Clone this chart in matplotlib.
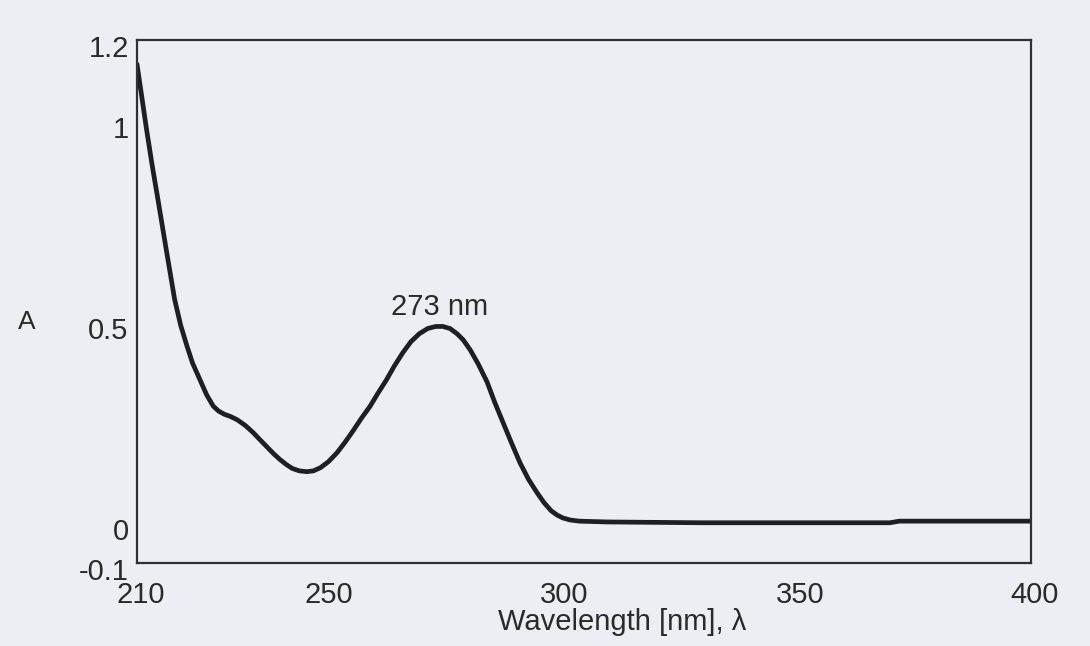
import matplotlib
matplotlib.use("Agg")
import matplotlib.pyplot as plt
from matplotlib.transforms import ScaledTranslation

plt.rcParams['font.family'] = ['Liberation Sans', 'DejaVu Sans']

wavelength = [210, 211, 212, 213.2, 214.5, 216.2, 218, 219.3, 220.6, 221.8,
              223.4, 224.8, 226.2, 227.3, 228.5, 229.9, 231.3, 233, 234.7, 236,
              237.5, 239, 240.4, 241.7, 243, 244.5, 246.1, 247.5, 249, 250.7,
              252.5, 254.2, 256, 257.7, 259.5, 261.2, 263, 264.7, 266.5, 268.2,
              270, 271.8, 273.5, 275, 276.5, 278, 279.3, 280.8, 282.5, 284.4,
              286, 287.8, 289.6, 291.4, 293.2, 295, 296.5, 298, 299.3, 300.5,
              302, 304, 307, 310, 320, 330, 340, 350, 360, 370, 372, 380, 390, 400]
absorbance = [1.14, 1.06, 0.98, 0.89, 0.80, 0.68, 0.555, 0.49, 0.44, 0.397,
              0.355, 0.318, 0.29, 0.278, 0.27, 0.264, 0.256, 0.242, 0.224, 0.208,
              0.19, 0.172, 0.157, 0.145, 0.135, 0.129, 0.127, 0.129, 0.137, 0.152,
              0.174, 0.2, 0.23, 0.26, 0.289, 0.322, 0.355, 0.39, 0.423, 0.45,
              0.47, 0.483, 0.488, 0.488, 0.483, 0.47, 0.455, 0.43, 0.395, 0.35,
              0.3, 0.249, 0.198, 0.149, 0.108, 0.075, 0.05, 0.03, 0.019, 0.012,
              0.007, 0.004, 0.003, 0.002, 0.001, 0.0, 0.0, 0.0, 0.0, 0.0,
              0.004, 0.004, 0.004, 0.004]

yticks = [-0.1, 0, 0.5, 1, 1.2]
ytick_labels = ["-0.1", "0", "0.5", "1", "1.2"]
xticks = [210, 250, 300, 350, 400]
xtick_labels = ["210", "250", "300", "350", "400"]
peak_label = "273 nm"
peak_pos = (274.2, 0.537)

bg = '#edeef3'
fs = 21
fig = plt.figure(figsize=(10.9, 6.46), dpi=100, facecolor=bg)
ax = fig.add_axes([0.1257, 0.1285, 0.8202, 0.8095], facecolor=bg)

ax.plot(wavelength, absorbance, color='#1e1e24', lw=3.4, solid_capstyle='round',
        solid_joinstyle='round')

ax.set_xlim(210, 400)
ax.set_ylim(-0.1, 1.2)
ax.set_xticks(xticks)
ax.set_xticklabels(xtick_labels)
ax.set_yticks(yticks)
ax.set_yticklabels(ytick_labels)
ax.tick_params(axis='both', length=0, labelsize=fs, colors='#2a2a2a')
ax.tick_params(axis='x', pad=13)
ax.tick_params(axis='y', pad=6)

for lab in ax.get_yticklabels():
    lab.set_transform(lab.get_transform() + ScaledTranslation(0, -6/100, fig.dpi_scale_trans))
for lab in ax.get_xticklabels():
    lab.set_transform(lab.get_transform() + ScaledTranslation(4/100, 0, fig.dpi_scale_trans))

for s in ax.spines.values():
    s.set_color('#2f2f35')
    s.set_linewidth(1.6)

ax.set_xlabel("Wavelength [nm], λ", fontsize=fs, color='#2a2a2a', va='center')
ax.xaxis.set_label_coords(0.5425, -0.113)
ax.set_ylabel("A", fontsize=fs - 2, color='#2a2a2a', rotation=0, va='center', ha='center')
ax.yaxis.set_label_coords(-0.123, 0.461)

ax.text(peak_pos[0], peak_pos[1], peak_label, fontsize=fs, color='#2a2a2a',
        ha='center', va='center')

fig.savefig("out.png", dpi=100, facecolor=bg)
